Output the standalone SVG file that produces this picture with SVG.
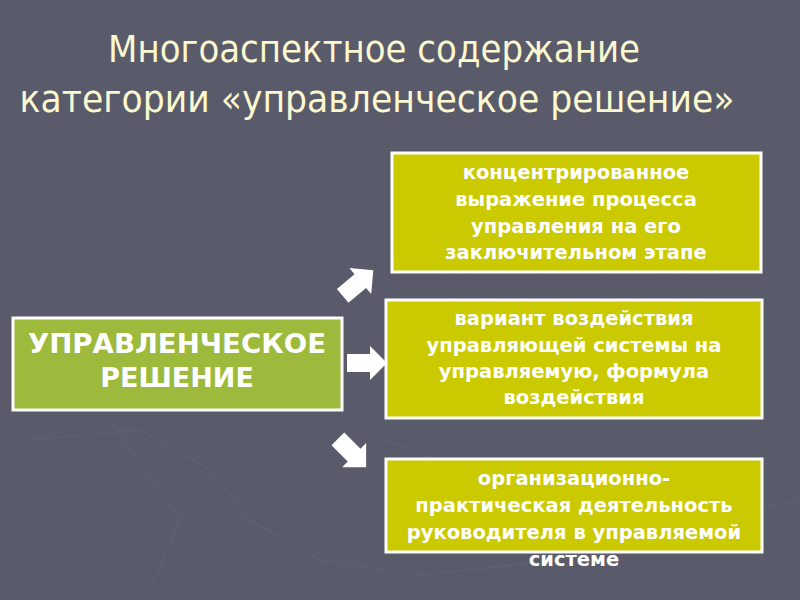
<svg xmlns="http://www.w3.org/2000/svg" width="800" height="600" viewBox="0 0 800 600">
<style>
.title{font-family:"DejaVu Sans Condensed","Liberation Sans Narrow","Liberation Sans",sans-serif;font-size:37px;fill:#fbf7cf}
.box{stroke:#ffffff;stroke-width:3}
.green{fill:#9dba3c}
.yellow{fill:#cbca00}
.t{font-family:"DejaVu Sans","Liberation Sans",sans-serif;font-weight:bold;fill:#ffffff;text-anchor:middle}
.s{font-size:19.5px}
.b{font-size:27px}
.arrow{fill:#ffffff}
.deco{fill:none;stroke:#60626f;stroke-width:1.2}
</style>
<defs>
<path id="arr" d="M-20,-9 H3 V-17 L20,0 L3,17 V9 H-20 Z"/>
</defs>
<rect width="800" height="600" fill="#595b6b"/>
<g id="background-decor" class="deco">
<path d="M30,440 L140,430 L210,470 L250,520 L320,560 L420,575 L560,560 L650,530 L800,500"/>
<path d="M110,420 L180,520 L150,590"/>
<path d="M360,430 L540,500 L600,560"/>
</g>
<g id="title">
<text class="title" x="374" y="62" text-anchor="middle" textLength="532" lengthAdjust="spacingAndGlyphs">Многоаспектное содержание</text>
<text class="title" x="377" y="112" text-anchor="middle" textLength="715" lengthAdjust="spacingAndGlyphs">категории «управленческое решение»</text>
</g>
<g id="node-main">
<rect class="box green" x="13" y="318" width="329" height="92"/>
<text class="t b" x="177" y="353" textLength="298" lengthAdjust="spacingAndGlyphs">УПРАВЛЕНЧЕСКОЕ</text>
<text class="t b" x="177" y="387">РЕШЕНИЕ</text>
</g>
<g id="node-1">
<rect class="box yellow" x="392" y="153" width="369" height="119"/>
<text class="t s" x="576" y="179">концентрированное</text>
<text class="t s" x="576" y="206">выражение процесса</text>
<text class="t s" x="576" y="233">управления на его</text>
<text class="t s" x="576" y="259">заключительном этапе</text>
</g>
<g id="node-2">
<rect class="box yellow" x="386" y="300" width="376" height="118"/>
<text class="t s" x="574" y="325">вариант воздействия</text>
<text class="t s" x="574" y="352">управляющей системы на</text>
<text class="t s" x="574" y="378">управляемую, формула</text>
<text class="t s" x="574" y="404">воздействия</text>
</g>
<g id="node-3">
<rect class="box yellow" x="386" y="459" width="376" height="93"/>
<text class="t s" x="574" y="485">организационно-</text>
<text class="t s" x="574" y="512">практическая деятельность</text>
<text class="t s" x="574" y="539">руководителя в управляемой</text>
<text class="t s" x="574" y="566">системе</text>
</g>
<g id="connectors">
<use href="#arr" class="arrow" transform="translate(358,283) rotate(-40)"/>
<use href="#arr" class="arrow" transform="translate(367,363)"/>
<use href="#arr" class="arrow" transform="translate(352,453) rotate(45)"/>
</g>
</svg>
